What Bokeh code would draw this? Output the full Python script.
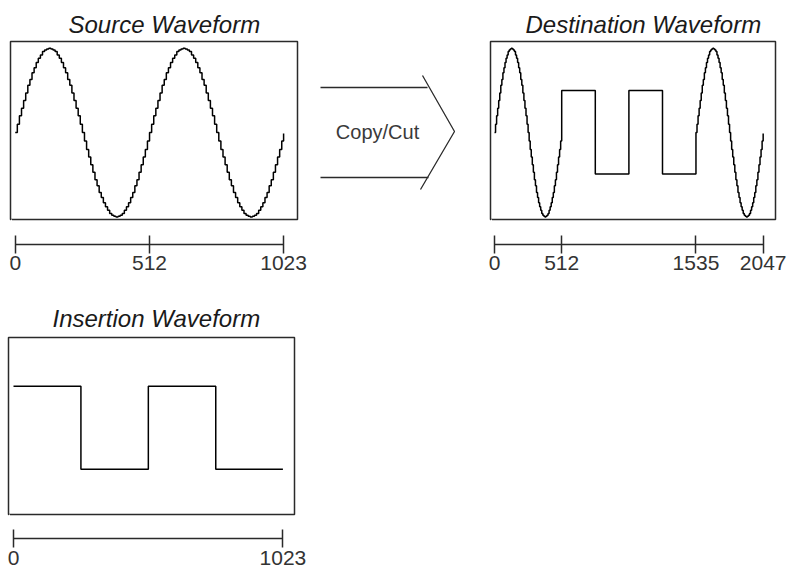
from bokeh.plotting import figure
from bokeh.models import LinearAxis, FixedTicker, Range1d
from bokeh.layouts import column, row
from bokeh.embed import file_html
from bokeh.resources import INLINE
from bokeh.core.properties import value

# ---------------- data ----------------
SAMPLE_STEP = 8  # sample spacing of the listed values

# one cycle of the source sine, read every 8 samples (period 512 samples)
sine_cycle = [0.00, 0.10, 0.20, 0.29, 0.38, 0.47, 0.56, 0.63, 0.71, 0.77, 0.83, 0.88, 0.92, 0.96, 0.98, 0.99,
              1.00, 0.99, 0.98, 0.96, 0.92, 0.88, 0.83, 0.77, 0.71, 0.63, 0.56, 0.47, 0.38, 0.29, 0.20, 0.10,
              0.00, -0.10, -0.20, -0.29, -0.38, -0.47, -0.56, -0.63, -0.71, -0.77, -0.83, -0.88, -0.92, -0.96, -0.98, -0.99,
              -1.00, -0.99, -0.98, -0.96, -0.92, -0.88, -0.83, -0.77, -0.71, -0.63, -0.56, -0.47, -0.38, -0.29, -0.20, -0.10]
sine_end = [-0.01]

# Source waveform: two sine cycles, samples 0..1023
src_vals = sine_cycle + sine_cycle + sine_end
src_x = [i * SAMPLE_STEP for i in range(len(src_vals) - 1)] + [1023]
src_ticks = [0, 512, 1023]

# Insertion waveform: square wave, samples 0..1023
ins_x = [0, 256, 512, 768, 1023]
ins_vals = [0.50, -0.49, 0.50, -0.49, -0.49]
ins_ticks = [0, 1023]

# Destination waveform: first source cycle, inserted square wave, second source cycle
dst_mid_x = [512, 768, 1024, 1280]
dst_mid_vals = [0.50, -0.49, 0.50, -0.49]
dst_tail_start = 1535
dst_x = ([i * SAMPLE_STEP for i in range(len(sine_cycle))] + dst_mid_x +
         [dst_tail_start + i * SAMPLE_STEP for i in range(len(sine_cycle))] + [2047])
dst_vals = sine_cycle + dst_mid_vals + sine_cycle + sine_end
dst_ticks = [0, 512, 1535, 2047]

# Arrow graphic, in the arrow panel's own coordinates
arrow_top = ([320, 427], [87, 87])
arrow_bot = ([320, 428], [177, 177])
arrow_head = ([422, 454, 420], [75, 131, 189])
arrow_text = "Copy/Cut"
arrow_text_pos = (377, 131)

# ---------------- styles ----------------
INK = "#2a2a2a"
TITLE_FONT = "Liberation Sans"
LABEL_FONT = "Liberation Sans Narrow, Liberation Sans"
Y_RANGE = (-1.03, 1.08)
ROW1_TOP, ROW1_BOTTOM = 41, 70


def panel(title, xs, ys, ticks, xr, frame_w, frame_h, mb_left, mb_right, mb_top,
          title_offset, title_standoff, gap, label_standoff, mb_bottom, spacer_x):
    p = figure(frame_width=frame_w, frame_height=frame_h,
               x_range=Range1d(*xr), y_range=Range1d(*Y_RANGE),
               x_axis_location=None, y_axis_location=None,
               toolbar_location=None, output_backend="svg",
               min_border_left=mb_left, min_border_right=mb_right,
               min_border_top=mb_top, min_border_bottom=mb_bottom,
               background_fill_color="white", border_fill_color="white",
               outline_line_color=INK, outline_line_width=1.5)
    p.title.text = title
    p.title.text_font = TITLE_FONT
    p.title.text_font_style = "italic"
    p.title.text_font_size = "24px"
    p.title.text_color = "#1a1a1a"
    p.title.align = "left"
    p.title.offset = title_offset
    p.title.standoff = title_standoff
    p.xgrid.visible = False
    p.ygrid.visible = False

    # invisible spacer axis: pushes the real axis down, away from the box
    spacer = LinearAxis(ticker=FixedTicker(ticks=[spacer_x], minor_ticks=[]),
                        major_tick_in=0, major_tick_out=gap,
                        major_tick_line_color="white", major_tick_line_width=1,
                        minor_tick_in=0, minor_tick_out=0, axis_line_color=None,
                        major_label_overrides={spacer_x: ""},
                        major_label_text_font_size="1px", major_label_standoff=0)
    axis = LinearAxis(ticker=FixedTicker(ticks=ticks, minor_ticks=[]), bounds=(0, max(ticks)),
                      major_tick_in=9, major_tick_out=9, minor_tick_in=0, minor_tick_out=0,
                      axis_line_color=INK, axis_line_width=1.5,
                      major_tick_line_color=INK, major_tick_line_width=1.5,
                      major_label_text_font=LABEL_FONT, major_label_text_font_size="21px",
                      major_label_text_color="#333333", major_label_standoff=label_standoff)
    p.add_layout(spacer, "below")
    p.add_layout(axis, "below")

    p.step(xs, ys, mode="after", line_color="black", line_width=1.5)
    return p


p_src = panel("Source Waveform", src_x, src_vals, src_ticks, (-18, 1076), 287, 178,
              10, 10, ROW1_TOP, 58, 7, 25, 2, ROW1_BOTTOM, -15)

p_dst = panel("Destination Waveform", dst_x, dst_vals, dst_ticks, (-30.5, 2141), 285, 178,
              4, 20, ROW1_TOP, 35, 7, 25, 2, ROW1_BOTTOM, -25)

p_ins = panel("Insertion Waveform", ins_x, ins_vals, ins_ticks, (-19, 1067), 286, 177,
              8, 14, 48, 44, 12, 24, 3, 0, -15)

# arrow panel: same borders as its neighbours, data space in page-like units
p_arr = figure(frame_width=179, frame_height=178,
               x_range=Range1d(307, 486), y_range=Range1d(219, 41),
               x_axis_location=None, y_axis_location=None, toolbar_location=None,
               output_backend="svg", min_border_left=0, min_border_right=0,
               min_border_top=ROW1_TOP, min_border_bottom=ROW1_BOTTOM,
               outline_line_color=None,
               background_fill_color="white", border_fill_color="white")
p_arr.xgrid.visible = False
p_arr.ygrid.visible = False
p_arr.line(*arrow_top, line_color=INK, line_width=1.3)
p_arr.line(*arrow_bot, line_color=INK, line_width=1.3)
p_arr.line(*arrow_head, line_color=INK, line_width=1.3)
p_arr.text(x=[arrow_text_pos[0]], y=[arrow_text_pos[1]], text=[arrow_text],
           text_align="center", text_baseline="middle",
           text_font=value("Liberation Sans"), text_font_size="20px", text_color="#3a3a3a")

layout = column(row(p_src, p_arr, p_dst), p_ins)

open("out.html", "w").write(file_html(layout, INLINE))
